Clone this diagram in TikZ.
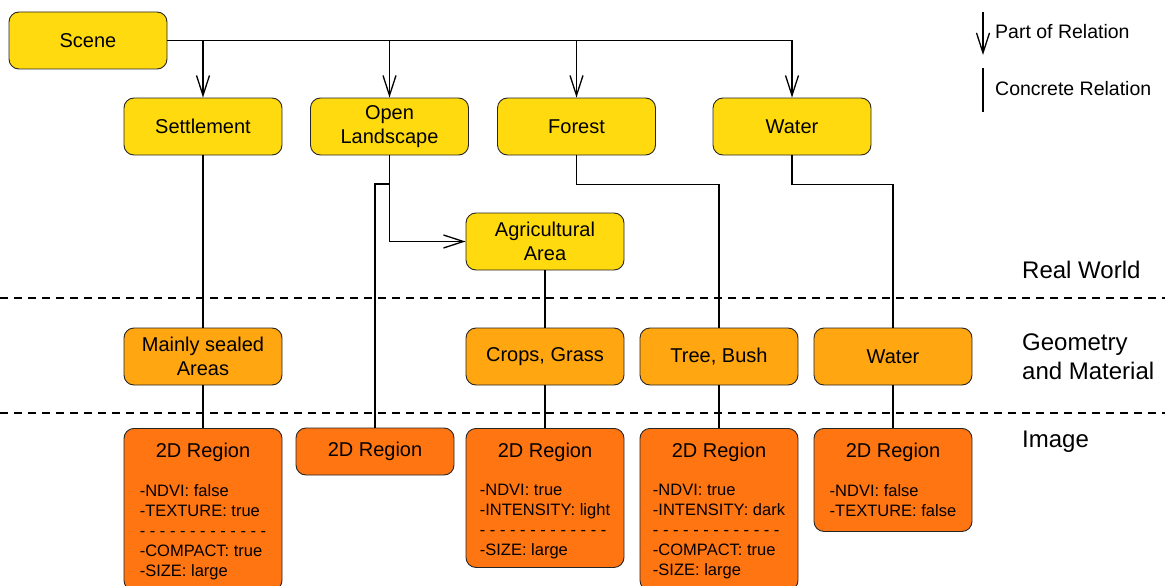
\documentclass[tikz,border=0pt]{standalone}
\usepackage{fontspec}
\setmainfont{Liberation Sans}
\usetikzlibrary{arrows.meta}
\definecolor{cyel}{RGB}{255,218,15}
\definecolor{corl}{RGB}{255,166,16}
\definecolor{cord}{RGB}{255,117,18}
\begin{document}
\begin{tikzpicture}[x=1pt,y=-1pt,
 box/.style={draw=black!85, line width=0.9pt, rounded corners=10pt, minimum width=158pt, minimum height=57pt, inner sep=0pt, align=center, font=\fontsize{20}{24}\selectfont},
 yel/.style={box, fill=cyel}, lor/.style={box, fill=corl}, dor/.style={box, fill=cord},
 rel/.style={line width=1.3pt, black},
 part/.style={rel, -{Straight Barb[length=20pt,width=13pt]}},
 attr/.style={align=left, inner sep=0pt, font=\fontsize{16.5}{20}\selectfont},
 ttl/.style={inner sep=0pt, font=\fontsize{20}{24}\selectfont},
 lbl/.style={anchor=west, inner sep=0pt, align=left, font=\fontsize{24}{29}\selectfont},
 leg/.style={anchor=west, inner sep=0pt, font=\fontsize{19.5}{24}\selectfont},
 sep/.style={dash pattern=on 8pt off 6pt, line width=1.2pt}]
\useasboundingbox (0,0) rectangle (1165,586);
% real world
\node[yel] (scene) at (88,40.5) {Scene};
\node[yel] (settl) at (203,126.5) {Settlement};
\node[yel] (open) at (389.5,126.5) {\raisebox{-2pt}{Open}\\\raisebox{-2pt}{Landscape}};
\node[yel] (forest) at (576.5,126.5) {Forest};
\node[yel] (water) at (792,126.5) {Water};
\node[yel] (agri) at (545,241.5) {Agricultural\\Area};
% geometry and material
\node[lor] (sealed) at (203,356.5) {Mainly sealed\\Areas};
\node[lor] (crops) at (545,356.5) {\raisebox{-2pt}{Crops, Grass}};
\node[lor] (tree) at (719,356.5) {\raisebox{-1pt}{Tree, Bush}};
\node[lor] (water2) at (893,356.5) {Water};
% image
\node[dor, minimum height=162pt, anchor=north] (r1) at (203,428) {};
\node[dor, minimum height=47pt] (r2) at (375,451.5) {\raisebox{-1.5pt}{2D Region}};
\node[dor, minimum height=139pt, anchor=north] (r3) at (545,428) {};
\node[dor, minimum height=162pt, anchor=north] (r4) at (719,428) {};
\node[dor, minimum height=103pt, anchor=north] (r5) at (893,428) {};
\node[ttl, anchor=base] (t1) at (203,457) {2D Region};
\node[ttl, anchor=base] (t3) at (545,457) {2D Region};
\node[ttl, anchor=base] (t4) at (719,457) {2D Region};
\node[ttl, anchor=base] (t5) at (893,457) {2D Region};
\node[attr, anchor=north] (a1) at (203,484) {-NDVI: false\\-TEXTURE: true\\- - - - - - - - - - - - -\\-COMPACT: true\\-SIZE: large};
\node[attr, anchor=north] (a3) at (545,484) {-NDVI: true\\-INTENSITY: light\\- - - - - - - - - - - - -\\-SIZE: large};
\node[attr, anchor=north] (a4) at (719,484) {-NDVI: true\\-INTENSITY: dark\\- - - - - - - - - - - - -\\-COMPACT: true\\-SIZE: large};
\node[attr, anchor=north] (a5) at (893,484) {-NDVI: false\\-TEXTURE: false};
% connectors
\draw[rel] (scene.east) -- (water.north |- scene.east);
\foreach \n in {settl,open,forest,water} \draw[part] (\n.north |- scene.east) -- (\n.north);
\draw[part] (open.south) -- (open.south |- agri.west) -- (agri.west);
\draw[rel] (open.south |- 0,184) -- (r2.north |- 0,184) -- (r2.north);
\draw[rel] (forest.south) -- ++(0,29) -| (tree.north);
\draw[rel] (water.south) -- ++(0,29) -| (water2.north);
\draw[rel] (settl.south) -- (sealed.north);
\draw[rel] (sealed.south) -- (r1.north);
\draw[rel] (agri.south) -- (crops.north);
\draw[rel] (crops.south) -- (r3.north);
\draw[rel] (tree.south) -- (r4.north);
\draw[rel] (water2.south) -- (r5.north);
% separators and layer labels
\draw[sep] (0,298) -- (1165,298);
\draw[sep] (0,413) -- (1165,413);
\node[lbl] (rw) at (1022,270) {Real World};
\node[lbl] (gm) at (1022,356.5) {Geometry\\and Material};
\node[lbl] (im) at (1022,442) {Image};
% legend
\coordinate (l1a) at (983,12);
\coordinate (l1b) at (983,55);
\coordinate (l2a) at (983,68);
\coordinate (l2b) at (983,112);
\draw[part] (l1a) -- (l1b);
\draw[rel] (l2a) -- (l2b);
\node[leg] (lt1) at (995,32) {Part of Relation};
\node[leg] (lt2) at (995,89) {Concrete Relation};
\end{tikzpicture}
\end{document}
